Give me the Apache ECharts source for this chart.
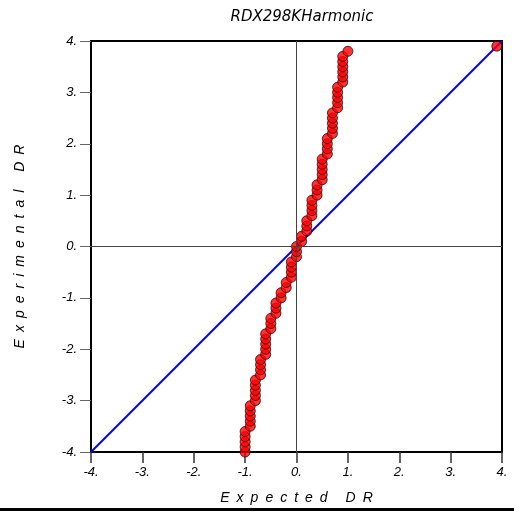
<!DOCTYPE html>
<html>
<head>
<meta charset="utf-8">
<script src="https://cdn.jsdelivr.net/npm/echarts@6/dist/echarts.min.js"></script>
<style>
  html, body { margin: 0; padding: 0; background: #fff; }
  #chart { width: 514px; height: 515px; }
</style>
</head>
<body>
<div id="chart"></div>
<script>
// expected vs experimental DR
const expected = [
  -1.0, -1.0, -1.0, -1.0, -1.0,
  -0.9, -0.9, -0.9, -0.9, -0.9,
  -0.8, -0.8, -0.8, -0.8, -0.8,
  -0.7, -0.7, -0.7, -0.7,
  -0.6, -0.6, -0.6, -0.6, -0.6,
  -0.5, -0.5, -0.5,
  -0.4, -0.4, -0.4,
  -0.3, -0.3,
  -0.2, -0.2,
  -0.1, -0.1, -0.1, -0.1,
  0.0, 0.0, 0.0,
  0.1, 0.1,
  0.2, 0.2, 0.2,
  0.3, 0.3, 0.3, 0.3,
  0.4, 0.4, 0.4,
  0.5, 0.5, 0.5, 0.5, 0.5,
  0.6, 0.6, 0.6, 0.6,
  0.7, 0.7, 0.7, 0.7, 0.7,
  0.8, 0.8, 0.8, 0.8, 0.8,
  0.9, 0.9, 0.9, 0.9, 0.9, 0.9,
  1.0
];
const experimental = [
  -4.0, -3.9, -3.8, -3.7, -3.6,
  -3.5, -3.4, -3.3, -3.2, -3.1,
  -3.0, -2.9, -2.8, -2.7, -2.6,
  -2.5, -2.4, -2.3, -2.2,
  -2.1, -2.0, -1.9, -1.8, -1.7,
  -1.6, -1.5, -1.4,
  -1.3, -1.2, -1.1,
  -1.0, -0.9,
  -0.8, -0.7,
  -0.6, -0.5, -0.4, -0.3,
  -0.2, -0.1, 0.0,
  0.1, 0.2,
  0.3, 0.4, 0.5,
  0.6, 0.7, 0.8, 0.9,
  1.0, 1.1, 1.2,
  1.3, 1.4, 1.5, 1.6, 1.7,
  1.8, 1.9, 2.0, 2.1,
  2.2, 2.3, 2.4, 2.5, 2.6,
  2.7, 2.8, 2.9, 3.0, 3.1,
  3.2, 3.3, 3.4, 3.5, 3.6, 3.7,
  3.8
];
const cornerPoint = [3.9, 3.9];
const diagonal = [[-4, -4], [4, 4]];
const axisMin = -4;
const axisMax = 4;

const chart = echarts.init(document.getElementById('chart'));

const points = expected.map((x, i) => [x, experimental[i]]);
points.push(cornerPoint);

// spread the letters of the axis titles like the original
const spaced = s => s.split('').join('\u2002');

const labelFont = {
  fontFamily: 'Liberation Sans, Arial, sans-serif',
  fontStyle: 'italic',
  fontSize: 13,
  color: '#000'
};

chart.setOption({
  animation: false,
  title: {
    text: 'RDX298KHarmonic',
    left: 297,
    top: 5,
    textAlign: 'center',
    textStyle: {
      fontFamily: 'DejaVu Sans, sans-serif',
      fontStyle: 'italic',
      fontWeight: 'normal',
      fontSize: 15,
      color: '#000'
    }
  },
  grid: {
    left: 91, top: 41, width: 411, height: 411,
    show: true,
    backgroundColor: '#fff',
    borderColor: '#000',
    borderWidth: 2
  },
  xAxis: {
    type: 'value',
    position: 'bottom',
    min: axisMin, max: axisMax, interval: 1,
    name: spaced('Expected DR'),
    nameLocation: 'middle',
    nameGap: 39,
    nameTextStyle: Object.assign({}, labelFont, { fontSize: 14 }),
    axisLine: { show: true, onZero: false, lineStyle: { color: '#000', width: 2 } },
    axisTick: { show: true, inside: false, length: 11, lineStyle: { color: '#333', width: 1.5 } },
    axisLabel: Object.assign({ margin: 14, formatter: v => v + '.' }, labelFont),
    splitLine: { show: false }
  },
  yAxis: {
    type: 'value',
    min: axisMin, max: axisMax, interval: 1,
    name: spaced('Experimental DR'),
    nameLocation: 'middle',
    nameGap: 64,
    nameTextStyle: Object.assign({}, labelFont, { fontSize: 14 }),
    axisLine: { show: true, onZero: false, lineStyle: { color: '#000', width: 2 } },
    axisTick: { show: true, length: 11, lineStyle: { color: '#666' } },
    axisLabel: Object.assign({ margin: 14, formatter: v => v + '.' }, labelFont),
    splitLine: { show: false }
  },
  graphic: [
    { type: 'rect', left: 0, top: 508, shape: { width: 514, height: 3 }, style: { fill: '#000' } }
  ],
  series: [
    {
      type: 'line',
      data: diagonal,
      symbol: 'none',
      z: 2,
      lineStyle: { color: '#0000ff', width: 2 },
      markLine: {
        silent: true,
        symbol: 'none',
        label: { show: false },
        lineStyle: { color: '#444', width: 1, type: 'solid' },
        data: [{ xAxis: 0 }, { yAxis: 0 }]
      }
    },
    {
      type: 'scatter',
      data: points,
      symbol: 'circle',
      symbolSize: 10,
      z: 3,
      itemStyle: { color: '#ff0000', borderColor: '#3a0000', borderWidth: 1 }
    }
  ]
});
</script>
</body>
</html>
